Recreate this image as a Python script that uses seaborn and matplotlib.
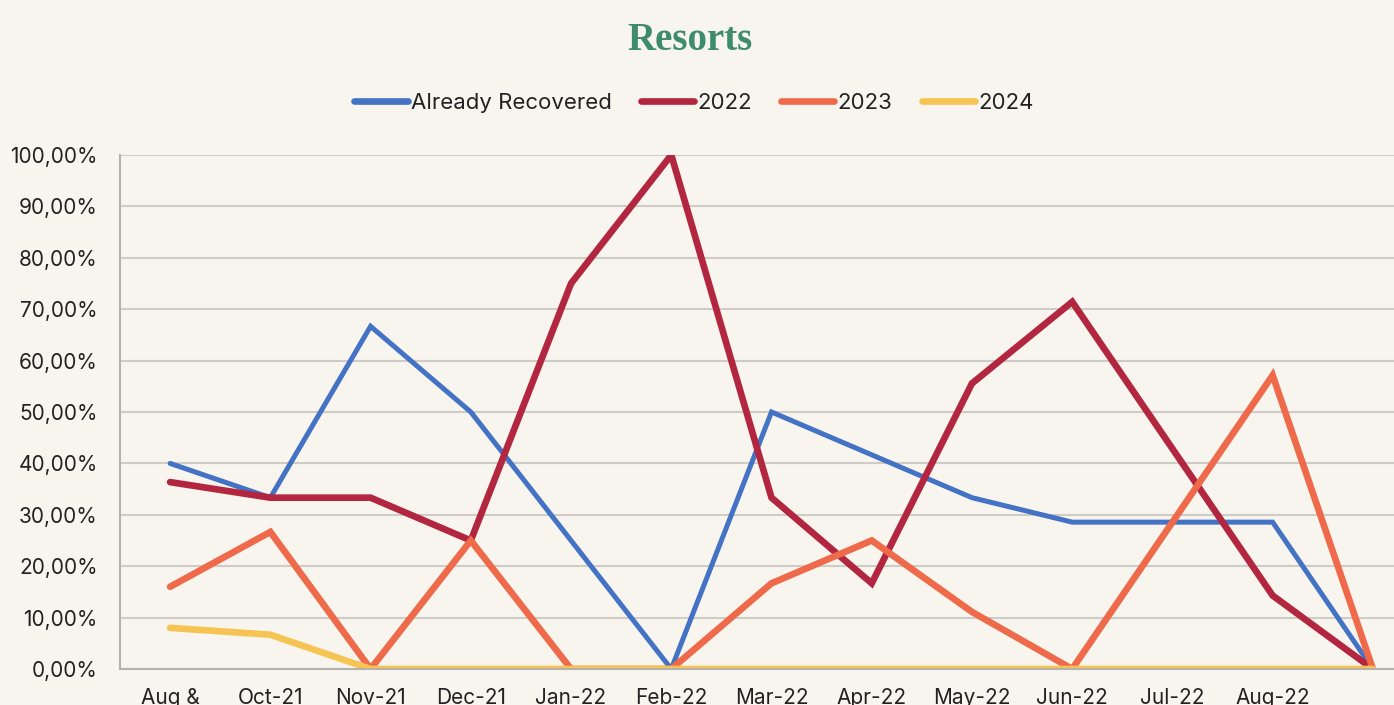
import matplotlib
matplotlib.use("Agg")
import matplotlib.pyplot as plt
import seaborn as sns
import pandas as pd
from matplotlib.lines import Line2D

categories = ["Aug &\nSep-21", "Oct-21", "Nov-21", "Dec-21", "Jan-22", "Feb-22", "Mar-22",
              "Apr-22", "May-22", "Jun-22", "Jul-22", "Aug-22", ""]
already_recovered = [40.0, 33.33, 66.67, 50.0, 25.0, 0.0, 50.0, 41.67, 33.33, 28.57, 28.57, 28.57, 0.0]
s2022 = [36.36, 33.33, 33.33, 25.0, 75.0, 100.0, 33.33, 16.67, 55.56, 71.43, 42.86, 14.29, 0.0]
s2023 = [16.0, 26.67, 0.0, 25.0, 0.0, 0.0, 16.67, 25.0, 11.11, 0.0, 28.57, 57.14, 0.0]
s2024 = [8.0, 6.67, 0.0, 0.0, 0.0, 0.0, 0.0, 0.0, 0.0, 0.0, 0.0, 0.0, 0.0]
series_names = ["Already Recovered", "2022", "2023", "2024"]
colors = ["#4472C4", "#B22640", "#EE6A4A", "#F6C453"]
widths = [3.6, 4.8, 4.8, 4.8]

BG = "#F8F5EE"
sns.set_theme(style="white")
plt.rcParams["font.family"] = ["Inter", "DejaVu Sans"]

rows = []
for name, vals in zip(series_names, [already_recovered, s2022, s2023, s2024]):
    for i, v in enumerate(vals):
        rows.append({"idx": i, "value": v, "series": name})
df = pd.DataFrame(rows)

fig = plt.figure(figsize=(13.94, 7.05), dpi=100, facecolor=BG)
ax = fig.add_axes([120 / 1394, 36 / 705, 1303 / 1394, 514 / 705])
ax.set_facecolor(BG)

sns.lineplot(data=df, x="idx", y="value", hue="series", hue_order=series_names,
             palette=colors, ax=ax, legend=False, sort=False)
for line, lw in zip(ax.lines, widths):
    line.set_linewidth(lw)
    line.set_solid_capstyle("round")
    line.set_solid_joinstyle("miter")

ax.set_xlim(-0.5, 12.5)
ax.set_ylim(0, 100)
ax.set_yticks(range(0, 101, 10))
ax.set_yticklabels([f"{v:.2f}%".replace(".", ",") for v in range(0, 101, 10)],
                   fontsize=15, color="#222222")
ax.set_xticks(range(len(categories)))
ax.set_xticklabels(categories, fontsize=15, color="#222222", va="top")
ax.tick_params(axis="both", length=0)
ax.tick_params(axis="y", pad=16)
ax.tick_params(axis="x", pad=14)
ax.grid(axis="y", color="#CFCCC8", linewidth=1.5)
ax.set_axisbelow(True)
for side in ["top", "right"]:
    ax.spines[side].set_visible(False)
for side in ["left", "bottom"]:
    ax.spines[side].set_color("#B5B2AE")
    ax.spines[side].set_linewidth(1.5)
ax.set_xlabel("")
ax.set_ylabel("")

handles = [Line2D([0], [0], color=c, lw=4.8, solid_capstyle="round") for c in colors]
fig.legend(handles, series_names, loc="center", bbox_to_anchor=(694 / 1394, 1 - 103 / 705),
           ncol=4, frameon=False, fontsize=16, handlelength=2.4, handletextpad=0.15,
           columnspacing=1.3, labelcolor="#222222")

fig.text(690 / 1394, 1 - 40 / 705, "Resorts", ha="center", va="center",
         fontsize=28, fontweight="bold", color="#3E8B6E", family="Liberation Serif")

fig.savefig("out.png", dpi=100, facecolor=BG)
